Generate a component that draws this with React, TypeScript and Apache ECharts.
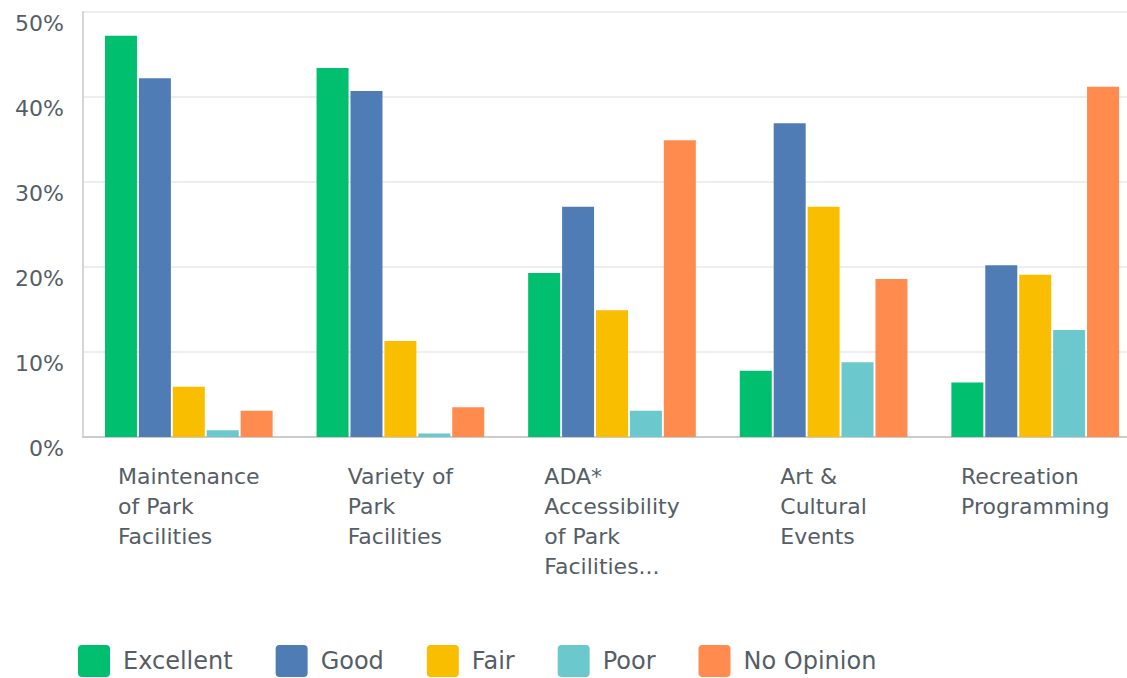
import React, { useEffect, useRef } from "react";
import * as echarts from "echarts";

const categories = [
  "Maintenance\nof Park\nFacilities",
  "Variety of\nPark\nFacilities",
  "ADA*\nAccessibility\nof Park\nFacilities...",
  "Art &\nCultural\nEvents",
  "Recreation\nProgramming",
];
const seriesNames = ["Excellent", "Good", "Fair", "Poor", "No Opinion"];
const excellent = [47.2, 43.4, 19.3, 7.8, 6.4];
const good = [42.2, 40.7, 27.1, 36.9, 20.2];
const fair = [5.9, 11.3, 14.9, 27.1, 19.1];
const poor = [0.8, 0.4, 3.1, 8.8, 12.6];
const noOpinion = [3.1, 3.5, 34.9, 18.6, 41.2];
const colors = ["#00BF6F", "#507CB6", "#F9BE00", "#6BC8CD", "#FF8B4F"];

const FONT = "DejaVu Sans";
const TEXT = "#555e66";
const ICON = "path://M4,0 H28 Q32,0 32,4 V28 Q32,32 28,32 H4 Q0,32 0,28 V4 Q0,0 4,0 Z";

export default function App() {
  const ref = useRef<HTMLDivElement>(null);
  useEffect(() => {
    const chart = echarts.init(ref.current!, null, { renderer: "svg" });
    const values = [excellent, good, fair, poor, noOpinion];
    chart.setOption({
      animation: false,
      color: colors,
      grid: { left: 83, top: 12, width: 1058, height: 425, containLabel: false },
      legend: {
        left: 78,
        top: 645,
        padding: 0,
        itemWidth: 32,
        itemHeight: 32,
        itemGap: 43,
        icon: ICON,
        data: seriesNames,
        textStyle: { fontFamily: FONT, fontSize: 24, color: TEXT, padding: [3, 0, 0, 8] },
      },
      xAxis: {
        type: "category",
        data: categories,
        axisLine: { show: true, lineStyle: { color: "#cccccc", width: 2 } },
        axisTick: { show: false },
        axisLabel: {
          margin: 24,
          interval: 0,
          formatter: (v: string) =>
            v
              .split("\n")
              .map((s) => "{a|" + s + "}")
              .join("\n"),
          rich: {
            a: { fontFamily: FONT, fontSize: 22, color: TEXT, lineHeight: 30, align: "left" },
          },
        },
      },
      yAxis: {
        type: "value",
        min: 0,
        max: 50,
        interval: 10,
        axisLine: { show: true, lineStyle: { color: "#d6d6d6", width: 2 } },
        axisTick: { show: false },
        splitLine: { lineStyle: { color: "#eeeeee", width: 2 } },
        axisLabel: {
          formatter: "{value}%",
          fontFamily: FONT,
          fontSize: 22,
          color: TEXT,
          margin: 19,
          verticalAlign: "top",
        },
      },
      series: seriesNames.map((name, i) => ({
        name,
        type: "bar",
        data: values[i],
        barWidth: 32,
        barGap: "6%",
        itemStyle: { color: colors[i] },
      })),
    });
    return () => chart.dispose();
  }, []);
  return (
    <div style={{ position: "fixed", left: 0, top: 0, width: 1127, height: 678, overflow: "hidden", background: "#fff" }}>
      <div ref={ref} style={{ position: "absolute", left: 0, top: 0, width: 1145, height: 678 }} />
    </div>
  );
}
